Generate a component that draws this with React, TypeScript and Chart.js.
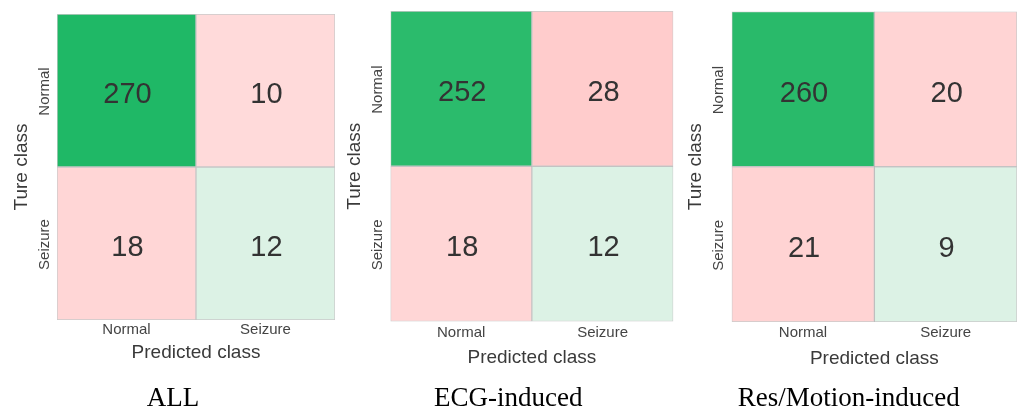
import React, { useEffect, useRef } from "react";
import { Chart, registerables } from "chart.js";

Chart.register(...registerables);

// ---------- data ----------
const predictedClasses = ["Normal", "Seizure"];
const trueClasses = ["Normal", "Seizure"];
const panelCaptions = ["ALL", "ECG-induced", "Res/Motion-induced"];
const countsAll = [
  [270, 10],
  [18, 12],
];
const countsECG = [
  [252, 28],
  [18, 12],
];
const countsRes = [
  [260, 20],
  [21, 9],
];
const xAxisTitle = "Predicted class";
const yAxisTitle = "Ture class";

const panelCounts = [countsAll, countsECG, countsRes];

// ---------- styles ----------
const cellColors = [
  [
    ["#1fb866", "#ffdada"],
    ["#ffd6d6", "#dcf2e5"],
  ],
  [
    ["#2bbb6c", "#ffcccc"],
    ["#ffd6d6", "#dcf2e5"],
  ],
  [
    ["#29ba6a", "#ffd4d4"],
    ["#ffd3d3", "#dcf2e5"],
  ],
];

const SANS = '"Liberation Sans", Arial, sans-serif';
const SERIF = '"Liberation Serif", "Times New Roman", serif';

// page-pixel layout of each panel
const layouts = [
  { cl: 0, cw: 340, aL: 57, aR: 335, aT: 14, aB: 320, capX: 173, yTitleX: 21.7, yTickX: 45, xTickY: 330, xTitleY: 353 },
  { cl: 340, cw: 337, aL: 390.5, aR: 673.3, aT: 11, aB: 321.5, capX: 508.3, yTitleX: 355, yTickX: 377.7, xTickY: 333.3, xTitleY: 358 },
  { cl: 677, cw: 340, aL: 731.7, aR: 1017, aT: 11.5, aB: 322, capX: 848.7, yTitleX: 695.3, yTickX: 718.7, xTickY: 333.3, xTitleY: 359 },
];

const H = 412;
const CAPTION_SIZE = 27;
const TICK_SIZE = 15;
const TITLE_SIZE = 19;
const NUM_SIZE = 29;

function Panel({ index }: { index: number }) {
  const ref = useRef<HTMLCanvasElement | null>(null);
  const L = layouts[index];

  useEffect(() => {
    if (!ref.current) return;
    const counts = panelCounts[index];
    const colors = cellColors[index];
    const n = trueClasses.length;

    const aRrel = L.aR - L.cl;
    const aLrel = L.aL - L.cl;
    const padL = 2 * (L.capX - L.cl) - aRrel;
    const padR = L.cw - aRrel;
    const yW = aLrel - padL;
    const yTitlePad = L.yTitleX - L.cl - padL - (TITLE_SIZE * 1.2) / 2;
    const xScaleBottom = H - CAPTION_SIZE;
    const xH = xScaleBottom - L.aB;
    const xTickPad = L.xTickY - L.aB - (TICK_SIZE * 1.2) / 2;
    const xTitlePad = xScaleBottom - (TITLE_SIZE * 1.2) / 2 - L.xTitleY;

    const datasets = trueClasses.map((tc, i) => ({
      label: tc,
      data: predictedClasses.map(() => [n - 1 - i, n - i]),
      counts: counts[i],
      backgroundColor: colors[i],
    }));

    const annotate = {
      id: "annotate" + index,
      afterDatasetsDraw(chart: any) {
        const ctx = chart.ctx;
        ctx.save();
        // cell values
        ctx.fillStyle = "#333333";
        ctx.font = `${NUM_SIZE}px ${SANS}`;
        ctx.textAlign = "center";
        ctx.textBaseline = "middle";
        chart.data.datasets.forEach((ds: any, di: number) => {
          const meta = chart.getDatasetMeta(di);
          meta.data.forEach((bar: any, j: number) => {
            const cy = (bar.y + bar.base) / 2;
            ctx.fillText(String(ds.counts[j]), bar.x + 1, cy + 4.5);
          });
        });
        // y tick labels (rotated)
        const ys = chart.scales.y;
        ctx.fillStyle = "#444444";
        ctx.font = `${TICK_SIZE}px ${SANS}`;
        trueClasses.forEach((tc, i) => {
          const py = ys.getPixelForValue(n - 1 - i + 0.5);
          ctx.save();
          ctx.translate(L.yTickX - L.cl, py + 1);
          ctx.rotate(-Math.PI / 2);
          ctx.fillText(tc, 0, 0);
          ctx.restore();
        });
        ctx.restore();
      },
    };

    const chart = new Chart(ref.current, {
      type: "bar",
      data: { labels: predictedClasses, datasets: datasets as any },
      options: {
        animation: false,
        responsive: false,
        maintainAspectRatio: false,
        layout: { padding: { left: padL, right: padR, top: L.aT, bottom: 0 } },
        datasets: {
          bar: {
            grouped: false,
            barPercentage: 1,
            categoryPercentage: 1,
            borderWidth: 1,
            borderColor: "rgba(150,150,150,0.5)",
            borderSkipped: false,
          },
        } as any,
        plugins: {
          legend: { display: false },
          tooltip: { enabled: false },
          title: {
            display: true,
            position: "bottom",
            text: panelCaptions[index],
            color: "#000000",
            font: { family: SERIF, size: CAPTION_SIZE, weight: "normal", lineHeight: 1 },
            padding: 0,
          },
        },
        scales: {
          x: {
            type: "category",
            grid: { display: false, drawTicks: false },
            border: { display: false },
            ticks: {
              color: "#444444",
              font: { family: SANS, size: TICK_SIZE },
              padding: xTickPad,
              maxRotation: 0,
              autoSkip: false,
            },
            title: {
              display: true,
              text: xAxisTitle,
              color: "#3a3a3a",
              font: { family: SANS, size: TITLE_SIZE },
              padding: { top: 0, bottom: xTitlePad },
            },
            afterFit: (s: any) => {
              s.height = xH;
            },
          },
          y: {
            type: "linear",
            min: 0,
            max: n,
            grid: { display: false, drawTicks: false },
            border: { display: false },
            ticks: { display: false },
            title: {
              display: true,
              text: yAxisTitle,
              color: "#3a3a3a",
              font: { family: SANS, size: TITLE_SIZE },
              padding: { top: yTitlePad, bottom: 0 },
            },
            afterFit: (s: any) => {
              s.width = yW;
            },
          },
        },
      } as any,
      plugins: [annotate],
    });
    return () => chart.destroy();
  }, [index]);

  return (
    <canvas
      ref={ref}
      width={L.cw}
      height={H}
      style={{ position: "absolute", left: L.cl, top: 0, width: L.cw, height: H }}
    />
  );
}

export default function App() {
  return (
    <div
      style={{
        position: "fixed",
        left: 0,
        top: 0,
        width: 1017,
        height: H,
        background: "#ffffff",
        overflow: "hidden",
      }}
    >
      {layouts.map((_, i) => (
        <Panel key={i} index={i} />
      ))}
    </div>
  );
}
